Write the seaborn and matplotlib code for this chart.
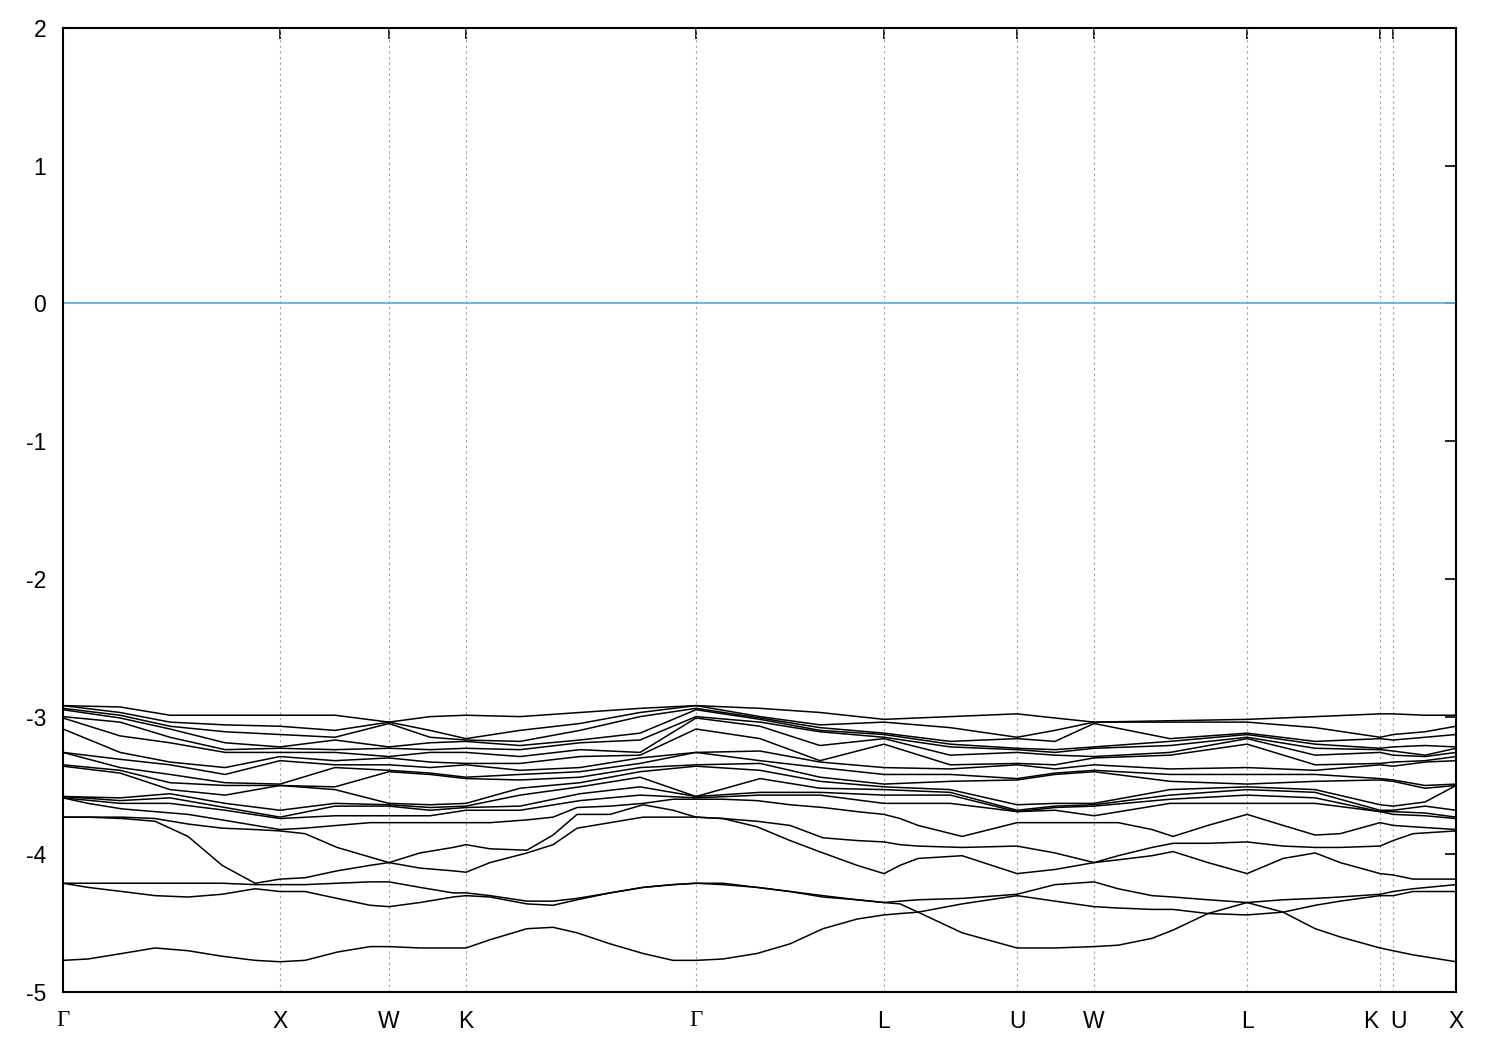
import matplotlib
matplotlib.use("Agg")
import matplotlib.pyplot as plt
import matplotlib.transforms as mtransforms
import seaborn as sns
import pandas as pd

# high-symmetry path
kpoint_labels = ["Γ", "X", "W", "K", "Γ", "L", "U", "W", "L", "K", "U", "X"]
kpoint_pos = [0.0, 1.0, 1.502, 1.857, 2.917, 3.783, 4.396, 4.751, 5.456, 6.069, 6.129, 6.419]

# upper 14 bands (sorted), read at these k
sample_k = [0.0, 0.263, 0.493, 0.747, 1.0, 1.253, 1.502, 1.691, 1.857, 2.106, 2.382,
            2.659, 2.917, 3.212, 3.488, 3.783, 4.088, 4.396, 4.571, 4.751, 5.101,
            5.456, 5.770, 6.069, 6.129, 6.276, 6.419]

e_G = [-2.92, -2.92, -2.94, -2.95, -3.00, -3.01, -3.09, -3.26, -3.26, -3.35, -3.36, -3.58, -3.58, -3.59]
e_GX1 = [-2.93, -2.97, -2.99, -3.01, -3.04, -3.14, -3.26, -3.31, -3.37, -3.39, -3.41, -3.59, -3.61, -3.63]
e_GX2 = [-2.99, -3.04, -3.07, -3.09, -3.15, -3.19, -3.33, -3.35, -3.42, -3.48, -3.53, -3.56, -3.59, -3.63]
e_GX3 = [-2.99, -3.06, -3.11, -3.19, -3.24, -3.26, -3.37, -3.42, -3.48, -3.50, -3.57, -3.63, -3.66, -3.68]
e_X = [-2.99, -3.07, -3.13, -3.22, -3.23, -3.26, -3.29, -3.32, -3.49, -3.50, -3.50, -3.68, -3.73, -3.74]
e_XW = [-2.99, -3.10, -3.15, -3.17, -3.24, -3.26, -3.32, -3.35, -3.37, -3.51, -3.53, -3.63, -3.65, -3.72]
e_W = [-3.04, -3.04, -3.05, -3.22, -3.23, -3.29, -3.30, -3.35, -3.39, -3.40, -3.63, -3.64, -3.65, -3.72]
e_WK = [-3.00, -3.10, -3.15, -3.19, -3.24, -3.26, -3.33, -3.37, -3.41, -3.42, -3.64, -3.66, -3.68, -3.72]
e_K = [-2.99, -3.16, -3.17, -3.18, -3.23, -3.26, -3.34, -3.35, -3.44, -3.45, -3.63, -3.65, -3.66, -3.68]
e_KG1 = [-3.00, -3.10, -3.18, -3.21, -3.24, -3.29, -3.34, -3.39, -3.42, -3.46, -3.52, -3.57, -3.65, -3.68]
e_KG2 = [-2.97, -3.05, -3.10, -3.17, -3.19, -3.24, -3.29, -3.37, -3.40, -3.44, -3.48, -3.51, -3.56, -3.61]
e_KG3 = [-2.94, -2.97, -3.00, -3.12, -3.17, -3.26, -3.28, -3.30, -3.34, -3.37, -3.40, -3.44, -3.51, -3.57]
e_GL1 = [-2.94, -3.00, -3.01, -3.02, -3.04, -3.07, -3.16, -3.25, -3.32, -3.34, -3.39, -3.45, -3.55, -3.57]
e_GL2 = [-2.97, -3.06, -3.08, -3.10, -3.11, -3.21, -3.32, -3.33, -3.37, -3.44, -3.47, -3.52, -3.55, -3.57]
e_L = [-3.02, -3.04, -3.12, -3.13, -3.15, -3.16, -3.20, -3.37, -3.42, -3.49, -3.51, -3.53, -3.57, -3.63]
e_LU = [-3.00, -3.08, -3.18, -3.20, -3.22, -3.28, -3.35, -3.38, -3.42, -3.47, -3.53, -3.55, -3.57, -3.63]
e_U = [-2.98, -3.15, -3.16, -3.23, -3.24, -3.26, -3.34, -3.35, -3.45, -3.46, -3.64, -3.68, -3.69, -3.69]
e_UW = [-3.01, -3.10, -3.18, -3.24, -3.26, -3.28, -3.35, -3.38, -3.41, -3.42, -3.63, -3.65, -3.66, -3.68]
e_WL = [-3.03, -3.04, -3.16, -3.18, -3.21, -3.26, -3.28, -3.38, -3.42, -3.47, -3.53, -3.57, -3.60, -3.63]
e_LK = [-3.00, -3.08, -3.18, -3.20, -3.23, -3.28, -3.35, -3.39, -3.42, -3.47, -3.53, -3.55, -3.59, -3.63]
e_U2 = [-2.98, -3.13, -3.17, -3.22, -3.25, -3.28, -3.33, -3.36, -3.46, -3.47, -3.65, -3.68, -3.69, -3.71]
e_UX = [-2.99, -3.11, -3.15, -3.21, -3.28, -3.29, -3.32, -3.33, -3.50, -3.52, -3.62, -3.65, -3.70, -3.72]

energies = [e_G, e_GX1, e_GX2, e_GX3, e_X, e_XW, e_W, e_WK, e_K, e_KG1, e_KG2,
            e_KG3, e_G, e_GL1, e_GL2, e_L, e_LU, e_U, e_UW, e_W, e_WL, e_L,
            e_LK, e_U, e_U2, e_UX, e_X]

# lower six bands, read on a finer k grid
low_k = [0.000, 0.115, 0.272, 0.424, 0.576, 0.733, 0.885, 1.000, 1.115, 1.263,
         1.415, 1.502, 1.645, 1.797, 1.857, 1.968, 2.138, 2.258, 2.369, 2.521,
         2.673, 2.811, 2.917, 3.041, 3.198, 3.350, 3.502, 3.659, 3.783, 3.857,
         3.940, 4.143, 4.396, 4.571, 4.751, 4.862, 5.018, 5.115, 5.276, 5.456,
         5.622, 5.770, 5.885, 6.069, 6.129, 6.221, 6.419]
band15 = [-3.59, -3.63, -3.67, -3.69, -3.71, -3.75, -3.79, -3.82, -3.81, -3.79,
          -3.77, -3.77, -3.77, -3.77, -3.77, -3.77, -3.75, -3.73, -3.66, -3.65,
          -3.63, -3.60, -3.60, -3.60, -3.61, -3.64, -3.66, -3.69, -3.71, -3.74,
          -3.79, -3.87, -3.77, -3.77, -3.77, -3.77, -3.82, -3.87, -3.79, -3.71,
          -3.79, -3.86, -3.85, -3.77, -3.79, -3.80, -3.82]
band16 = [-3.73, -3.73, -3.73, -3.74, -3.78, -3.81, -3.82, -3.83, -3.85, -3.95,
          -4.02, -4.06, -3.99, -3.95, -3.93, -3.96, -3.97, -3.86, -3.71, -3.71,
          -3.64, -3.68, -3.73, -3.74, -3.76, -3.79, -3.88, -3.90, -3.91, -3.93,
          -3.94, -3.95, -3.94, -3.99, -4.06, -4.01, -3.95, -3.92, -3.92, -3.91,
          -3.94, -3.95, -3.95, -3.94, -3.90, -3.85, -3.83]
band17 = [-3.73, -3.73, -3.74, -3.76, -3.87, -4.08, -4.21, -4.18, -4.17, -4.12,
          -4.08, -4.06, -4.10, -4.12, -4.13, -4.06, -3.99, -3.93, -3.81, -3.77,
          -3.73, -3.73, -3.73, -3.74, -3.80, -3.90, -3.99, -4.08, -4.14, -4.08,
          -4.03, -4.01, -4.14, -4.11, -4.06, -4.04, -4.01, -3.98, -4.06, -4.14,
          -4.03, -3.99, -4.06, -4.14, -4.15, -4.18, -4.18]
band18 = [-4.21, -4.21, -4.21, -4.21, -4.21, -4.21, -4.22, -4.22, -4.22, -4.21,
          -4.20, -4.20, -4.24, -4.28, -4.28, -4.30, -4.34, -4.34, -4.32, -4.28,
          -4.24, -4.22, -4.21, -4.21, -4.24, -4.27, -4.30, -4.33, -4.35, -4.34,
          -4.33, -4.32, -4.29, -4.22, -4.20, -4.25, -4.30, -4.31, -4.33, -4.35,
          -4.33, -4.32, -4.31, -4.29, -4.27, -4.25, -4.22]
band19 = [-4.21, -4.24, -4.27, -4.30, -4.31, -4.29, -4.25, -4.27, -4.27, -4.32,
          -4.37, -4.38, -4.35, -4.31, -4.30, -4.31, -4.36, -4.37, -4.33, -4.28,
          -4.24, -4.22, -4.21, -4.22, -4.24, -4.27, -4.31, -4.33, -4.35, -4.36,
          -4.42, -4.36, -4.30, -4.34, -4.38, -4.39, -4.40, -4.40, -4.43, -4.35,
          -4.42, -4.37, -4.34, -4.30, -4.30, -4.27, -4.27]
band20 = [-4.77, -4.76, -4.72, -4.68, -4.70, -4.74, -4.77, -4.78, -4.77, -4.71,
          -4.67, -4.67, -4.68, -4.68, -4.68, -4.62, -4.54, -4.53, -4.57, -4.65,
          -4.72, -4.77, -4.77, -4.76, -4.72, -4.65, -4.54, -4.47, -4.44, -4.43,
          -4.42, -4.57, -4.68, -4.68, -4.67, -4.66, -4.61, -4.55, -4.43, -4.44,
          -4.42, -4.54, -4.60, -4.68, -4.70, -4.73, -4.78]

rows = []
for k, es in zip(sample_k, energies):
    for b, e in enumerate(es):
        rows.append({"k": k, "E": e, "band": b})
low_bands = [band15, band16, band17, band18, band19, band20]
for b, es in enumerate(low_bands, start=14):
    if len(es) != len(low_k):
        raise ValueError(f"band {b}: {len(es)} values")
    for k, e in zip(low_k, es):
        rows.append({"k": k, "E": e, "band": b})
df = pd.DataFrame(rows)

#%%
sns.set_style("white")
plt.rcParams["font.family"] = ["Liberation Sans", "DejaVu Sans"]

fig = plt.figure(figsize=(15, 10.5), dpi=100)
ax = fig.add_axes([0.042, 0.0552, 0.9287, 0.9181])

for xp in kpoint_pos[1:-1]:
    ax.axvline(xp, color="#a0a0a0", lw=0.8, ls=(0, (2, 3)), zorder=1)
ax.axhline(0, color="#56b4e9", lw=1.3, zorder=2)

sns.lineplot(data=df, x="k", y="E", units="band", estimator=None,
             color="black", lw=1.1, ax=ax, zorder=3)

ax.set_xlim(kpoint_pos[0], kpoint_pos[-1])
ax.set_ylim(-5, 2)
ax.set_xticks(kpoint_pos)
ax.set_xticklabels(kpoint_labels)
ax.set_yticks(range(-5, 3))
ax.set_yticklabels([str(v) for v in range(-5, 3)])
ax.tick_params(axis="both", direction="in", length=8, width=1.2, labelsize=16.5,
               top=True, right=True, colors="black")
ax.tick_params(axis="x", pad=13)
ax.tick_params(axis="y", pad=12)

# Γ in a serif face; K and U pulled apart as in the original
shifts = {9: -9, 10: 5}
for i, t in enumerate(ax.get_xticklabels()):
    if kpoint_labels[i] == "Γ":
        t.set_family(["Liberation Serif", "DejaVu Serif"])
    if i in shifts:
        off = mtransforms.ScaledTranslation(shifts[i] / 100, 0, fig.dpi_scale_trans)
        t.set_transform(t.get_transform() + off)

ax.set_xlabel("")
ax.set_ylabel("")
for s in ax.spines.values():
    s.set_linewidth(1.5)
    s.set_color("black")

fig.savefig("out.png", dpi=100, facecolor="w")
